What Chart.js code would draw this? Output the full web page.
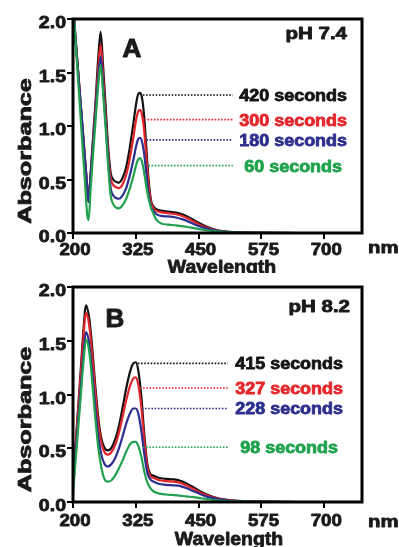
<!DOCTYPE html>
<html><head><meta charset="utf-8">
<script src="https://cdn.jsdelivr.net/npm/chart.js@4.4.1/dist/chart.umd.min.js"></script>
<style>
html,body{margin:0;padding:0;background:#fff;}
#wrap{position:relative;width:399px;height:547px;overflow:hidden;background:#fff;}
.pane{position:absolute;left:0;width:399px;}
</style></head><body>
<div id="wrap">
<div class="pane" style="top:0;height:273px"><canvas id="cA" width="399" height="273"></canvas></div>
<div class="pane" style="top:273px;height:274px"><canvas id="cB" width="399" height="274"></canvas></div>
</div>
<script>
// ---- ticks ----
const xTicks = [200, 325, 450, 575, 700];
const xTickLabels = ['200', '325', '450', '575', '700'];
const yTicks = [0.0, 0.5, 1.0, 1.5, 2.0];
const yTickLabels = ['0.0', '0.5', '1.0', '1.5', '2.0'];

// ---- panel A: pH 7.4 ----
const wavelengthA = [200,205,210,215,220,225,228,231,235,240,245,250,255,260,265,270,275,280,285,291,297,305,312,320,326,330,333,337,341,345,350,355,360,365,375,390,405,420,435,450,465,480,500,530,575,650,700];
const a420 = [2.15,1.82,1.52,1.22,0.92,0.62,0.45,0.29,0.55,0.90,1.24,1.62,1.88,1.55,1.18,0.80,0.56,0.50,0.48,0.47,0.50,0.60,0.77,1.02,1.22,1.30,1.31,1.27,1.12,0.86,0.52,0.31,0.25,0.225,0.21,0.20,0.19,0.17,0.135,0.095,0.06,0.035,0.016,0.006,0.002,0,0];
const a300 = [2.15,1.82,1.52,1.22,0.92,0.62,0.45,0.29,0.53,0.86,1.18,1.52,1.76,1.45,1.10,0.74,0.51,0.45,0.43,0.42,0.44,0.53,0.67,0.89,1.07,1.14,1.15,1.11,0.98,0.76,0.47,0.29,0.235,0.21,0.195,0.185,0.175,0.155,0.12,0.083,0.052,0.03,0.014,0.005,0.002,0,0];
const a180 = [2.15,1.82,1.52,1.22,0.92,0.62,0.45,0.29,0.52,0.83,1.13,1.44,1.65,1.36,1.03,0.68,0.42,0.35,0.33,0.32,0.34,0.41,0.52,0.68,0.82,0.88,0.89,0.86,0.76,0.60,0.38,0.25,0.21,0.18,0.16,0.155,0.145,0.125,0.095,0.065,0.042,0.025,0.012,0.005,0.002,0,0];
const a60  = [2.15,1.79,1.44,1.09,0.74,0.39,0.18,0.12,0.40,0.74,1.06,1.37,1.57,1.30,0.98,0.62,0.35,0.27,0.24,0.23,0.25,0.31,0.40,0.53,0.64,0.69,0.70,0.67,0.58,0.46,0.33,0.24,0.18,0.13,0.09,0.078,0.072,0.062,0.05,0.038,0.026,0.017,0.009,0.004,0.001,0,0];
const labelsA = ['420 seconds', '300 seconds', '180 seconds', '60 seconds'];
const markLevelsA = [1.29, 1.06, 0.87, 0.63];
const markStartA = [339, 342, 346, 350];

// ---- panel B: pH 8.2 ----
const wavelengthB = [200,205,210,215,220,226,232,238,244,250,256,262,269,276,283,290,298,306,314,320,325,330,336,342,348,354,360,370,385,400,412,425,440,455,470,485,500,530,575,650,700];
const b415 = [0.22,0.52,0.86,1.20,1.55,1.83,1.72,1.45,1.10,0.80,0.60,0.51,0.48,0.50,0.57,0.68,0.86,1.06,1.22,1.29,1.30,1.22,0.98,0.62,0.35,0.26,0.245,0.225,0.215,0.21,0.20,0.175,0.135,0.095,0.062,0.04,0.025,0.01,0.003,0,0];
const b327 = [0.20,0.50,0.83,1.15,1.49,1.76,1.65,1.38,1.04,0.75,0.56,0.47,0.44,0.46,0.52,0.62,0.78,0.95,1.09,1.15,1.16,1.09,0.88,0.56,0.32,0.24,0.225,0.205,0.195,0.19,0.18,0.155,0.12,0.085,0.055,0.035,0.021,0.008,0.003,0,0];
const b228 = [0.16,0.44,0.74,1.03,1.33,1.58,1.48,1.22,0.90,0.63,0.45,0.36,0.33,0.35,0.40,0.48,0.60,0.73,0.83,0.87,0.87,0.82,0.66,0.44,0.27,0.21,0.19,0.17,0.16,0.155,0.15,0.13,0.10,0.07,0.045,0.03,0.018,0.007,0.002,0,0];
const b98  = [0.09,0.37,0.67,0.96,1.26,1.51,1.41,1.13,0.80,0.52,0.33,0.22,0.19,0.20,0.24,0.30,0.38,0.47,0.54,0.56,0.56,0.52,0.42,0.28,0.18,0.13,0.10,0.08,0.07,0.065,0.06,0.052,0.045,0.035,0.025,0.016,0.01,0.005,0.002,0,0];
const labelsB = ['415 seconds', '327 seconds', '228 seconds', '98 seconds'];
const markLevelsB = [1.29, 1.06, 0.87, 0.51];
const markStartB = [329, 333, 337, 339];

const lineColors = ['#111111', '#e3262b', '#2b2f8e', '#22a04e'];
const textColors = ['#141414', '#e5262a', '#2c2f8c', '#1fa24c'];

const FONT = '"Liberation Sans", Arial, Helvetica, sans-serif';

function txt(ctx, s, x, y, o) {
  ctx.save();
  ctx.translate(x, y);
  if (o.rot) ctx.rotate(o.rot);
  ctx.scale(o.sx || 1, 1);
  ctx.font = o.font;
  ctx.fillStyle = o.color || '#1a1a1a';
  ctx.strokeStyle = o.color || '#1a1a1a';
  ctx.lineWidth = o.sw === undefined ? 0.8 : o.sw;
  ctx.lineJoin = 'round';
  ctx.textAlign = o.align || 'left';
  ctx.textBaseline = o.baseline || 'alphabetic';
  ctx.fillText(s, 0, 0);
  if (ctx.lineWidth > 0) ctx.strokeText(s, 0, 0);
  ctx.restore();
}

const decor = {
  id: 'decor',
  afterDraw(chart, args, o) {
    const ctx = chart.ctx, a = chart.chartArea;
    const xs = chart.scales.x, ys = chart.scales.y;
    // frame
    ctx.save();
    ctx.strokeStyle = '#000'; ctx.lineWidth = 3;
    ctx.strokeRect(a.left, a.top, a.right - a.left, a.bottom - a.top);
    ctx.restore();
    // y tick labels
    yTicks.forEach((v, i) => {
      txt(ctx, yTickLabels[i], a.left - 7, ys.getPixelForValue(v) + 9,
        {font: 'bold 17px ' + FONT, align: 'right', sx: 1.15});
    });
    // x tick labels
    xTicks.forEach((v, i) => {
      txt(ctx, xTickLabels[i], xs.getPixelForValue(v) + 2, a.bottom + o.xLabDy,
        {font: 'bold 17px ' + FONT, align: 'center', sx: 1.1});
    });
    txt(ctx, 'nm', 368, a.bottom + o.nmDy, {font: 'bold 17px ' + FONT, sx: 1.2});
    txt(ctx, 'Wavelength', o.wlX, a.bottom + o.wlDy, {font: 'bold 18px ' + FONT, align: 'center', sx: 1.08});
    txt(ctx, 'Absorbance', 26, (a.top + a.bottom) / 2 + 25,
      {font: 'bold 18px ' + FONT, align: 'center', baseline: 'middle', rot: -Math.PI / 2, sx: 1.4});
    // panel letter & pH
    txt(ctx, o.letter, a.left + o.letterDx, a.top + o.letterDy, {font: 'bold 26px ' + FONT, align: 'center', sw: 1});
    txt(ctx, o.ph, a.right + o.phDx, a.top + o.phDy, {font: 'bold 16px ' + FONT, align: 'right', sx: 1.28});
    // dotted markers + labels
    o.levels.forEach((lv, i) => {
      const y = ys.getPixelForValue(lv);
      ctx.save();
      ctx.strokeStyle = lineColors[i]; ctx.lineWidth = 1.6;
      ctx.setLineDash([1.6, 1.6]);
      ctx.beginPath();
      ctx.moveTo(xs.getPixelForValue(o.starts[i]), y);
      ctx.lineTo(xs.getPixelForValue(o.markEnd), y);
      ctx.stroke();
      ctx.restore();
      txt(ctx, o.labels[i], xs.getPixelForValue(o.labelCenter), y + 6,
        {font: 'bold 16px ' + FONT, align: 'center', color: textColors[i], sx: 1.12});
    });
  }
};

function makeChart(id, wl, series, xH, topPad, deco) {
  const datasets = series.map((arr, i) => ({
    data: wl.map((x, k) => ({x: x, y: arr[k]})),
    borderColor: lineColors[i],
    borderWidth: 2.2,
    pointRadius: 0,
    fill: false,
    cubicInterpolationMode: 'monotone',
    order: 3 - i
  }));
  return new Chart(document.getElementById(id), {
    type: 'line',
    data: {datasets},
    plugins: [decor],
    options: {
      responsive: false,
      devicePixelRatio: 1,
      animation: false,
      layout: {padding: {top: topPad, right: 37, left: 0, bottom: 0}},
      plugins: {legend: {display: false}, tooltip: {enabled: false}, decor: deco},
      scales: {
        x: {
          type: 'linear', min: 200, max: 775,
          afterBuildTicks: s => { s.ticks = xTicks.map(v => ({value: v})); },
          afterFit: s => { s.height = xH; },
          ticks: {display: false},
          grid: {drawOnChartArea: false, drawTicks: true, tickLength: 6, lineWidth: 2, color: '#000'},
          border: {display: false}
        },
        y: {
          type: 'linear', min: 0, max: 2.0,
          afterBuildTicks: s => { s.ticks = yTicks.map(v => ({value: v})); },
          afterFit: s => { s.width = 73; },
          ticks: {display: false},
          grid: {drawOnChartArea: false, drawTicks: true, tickLength: 6, lineWidth: 2, color: '#000'},
          border: {display: false}
        }
      }
    }
  });
}

makeChart('cA', wavelengthA, [a420, a300, a180, a60], 40, 19, {
  letter: 'A', letterDx: 59, letterDy: 38, ph: 'pH 7.4', phDx: -15, phDy: 20,
  levels: markLevelsA, starts: markStartA, markEnd: 518, labelCenter: 638, labels: labelsA,
  xLabDy: 22, nmDy: 20, wlX: 222, wlDy: 40
});
makeChart('cB', wavelengthB, [b415, b327, b228, b98], 45, 14, {
  letter: 'B', letterDx: 42, letterDy: 40, ph: 'pH 8.2', phDx: -12, phDy: 25,
  levels: markLevelsB, starts: markStartB, markEnd: 508, labelCenter: 630, labels: labelsB,
  xLabDy: 24, nmDy: 25, wlX: 229, wlDy: 43
});
</script>
</body></html>
